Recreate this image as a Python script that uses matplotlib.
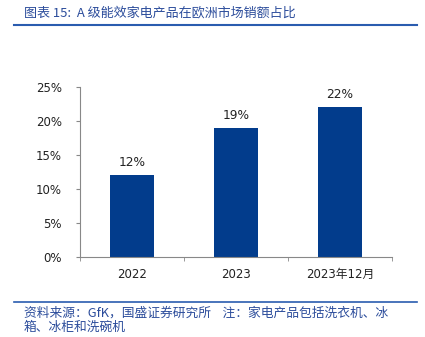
import matplotlib
matplotlib.use("Agg")
import matplotlib.pyplot as plt
from matplotlib.lines import Line2D

plt.rcParams['font.family'] = ['DejaVu Sans', 'Noto Sans CJK SC']

# share of A-class appliances in European sales
categories = ['2022', '2023', '2023年12月']
shares = [12, 19, 22]
yticks = [0, 5, 10, 15, 20, 25]

bar_color = '#023c8c'
title_color = '#2b4c9b'
rule_color = '#2a5caf'

fig = plt.figure(figsize=(4.25, 3.37), dpi=100)
ax = fig.add_axes([0.188, 0.237, 0.734, 0.505])

x = range(len(categories))
bars = ax.bar(x, shares, width=0.42, color=bar_color, zorder=2)
for b, v in zip(bars, shares):
    ax.text(b.get_x() + b.get_width() / 2, v + 0.9, f'{v}%',
            ha='center', va='bottom', fontsize=8.8, color='#222222')

ax.set_xlim(-0.5, len(categories) - 0.5)
ax.set_ylim(0, 25)
ax.set_yticks(yticks)
ax.set_yticklabels([f'{t}%' for t in yticks], fontsize=8.5, color='#222222')
ax.set_xticks(x)
ax.set_xticklabels(categories, fontsize=8.5, color='#222222')
ax.tick_params(axis='x', length=0, pad=8)
ax.tick_params(axis='y', length=3, direction='out', color='#888888', pad=10)

# minor ticks mark category boundaries
ax.set_xticks([-0.5, 0.5, 1.5, 2.5], minor=True)
ax.tick_params(axis='x', which='minor', length=3, direction='out', color='#888888')

for s in ['top', 'right']:
    ax.spines[s].set_visible(False)
ax.spines['left'].set_color('#888888')
ax.spines['bottom'].set_color('#888888')
ax.spines['left'].set_linewidth(0.8)
ax.spines['bottom'].set_linewidth(0.8)

# header and footer
fig.text(0.056, 0.962, '图表 15:  A 级能效家电产品在欧洲市场销额占比',
         fontsize=9.4, color=title_color, style='italic',
         family=['Noto Sans CJK SC', 'DejaVu Sans'], va='center', ha='left')
fig.add_artist(Line2D([0.033, 0.981], [0.925, 0.925], color=rule_color, lw=1.5))
fig.add_artist(Line2D([0.033, 0.981], [0.104, 0.104], color=rule_color, lw=1.2))
fig.text(0.056, 0.070, '资料来源：GfK，国盛证券研究所    注：家电产品包括洗衣机、冰',
         fontsize=9.2, color=title_color, family=['Noto Sans CJK SC', 'DejaVu Sans'],
         va='center', ha='left')
fig.text(0.056, 0.028, '箱、冰柜和洗碗机',
         fontsize=9.2, color=title_color, family=['Noto Sans CJK SC', 'DejaVu Sans'],
         va='center', ha='left')

plt.savefig('out.png', dpi=100)
